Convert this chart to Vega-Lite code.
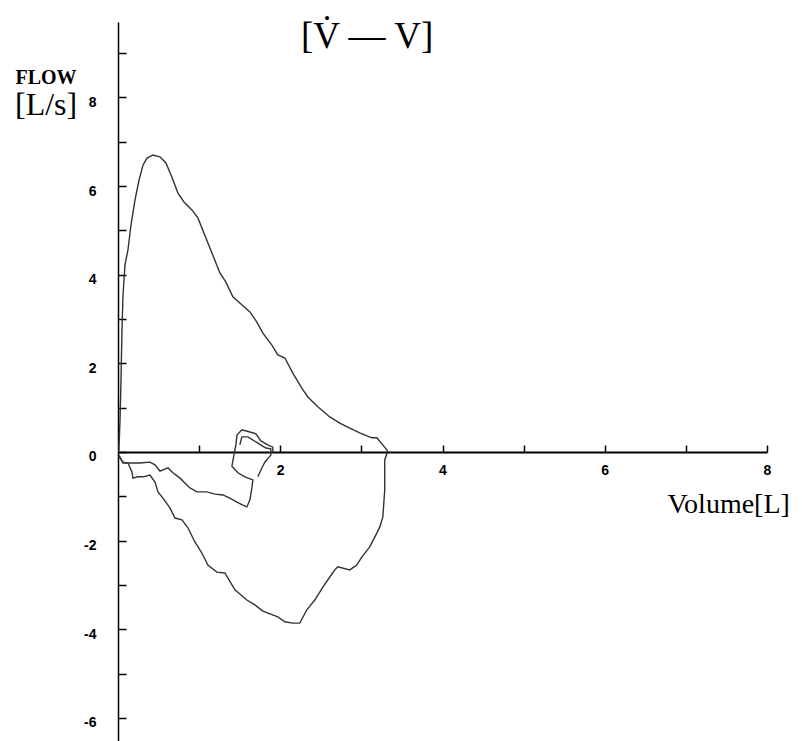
{
  "$schema": "https://vega.github.io/schema/vega-lite/v6.json",
  "width": 649,
  "height": 719,
  "autosize": {"type": "none"},
  "padding": {"left": 118, "top": 22, "right": 35, "bottom": 0},
  "background": "white",
  "config": {"view": {"stroke": null}, "axis": {"grid": false}},
  "title": {"text": "[V\u0307 \u2014 V]", "anchor": "start", "frame": "group", "dx": 183, "offset": -34, "baseline": "top", "font": "Liberation Serif", "fontSize": 37, "fontWeight": "normal", "color": "black"},
  "datasets": {
    "loop": [
      {"trace": "forced", "seq": 1, "volume": 0.01, "flow": 0},
      {"trace": "forced", "seq": 2, "volume": 0.025, "flow": 0.72},
      {"trace": "forced", "seq": 3, "volume": 0.037, "flow": 1.62},
      {"trace": "forced", "seq": 4, "volume": 0.049, "flow": 2.75},
      {"trace": "forced", "seq": 5, "volume": 0.062, "flow": 3.54},
      {"trace": "forced", "seq": 6, "volume": 0.086, "flow": 4.22},
      {"trace": "forced", "seq": 7, "volume": 0.123, "flow": 4.56},
      {"trace": "forced", "seq": 8, "volume": 0.16, "flow": 5.12},
      {"trace": "forced", "seq": 9, "volume": 0.209, "flow": 5.68},
      {"trace": "forced", "seq": 10, "volume": 0.259, "flow": 6.13},
      {"trace": "forced", "seq": 11, "volume": 0.308, "flow": 6.47},
      {"trace": "forced", "seq": 12, "volume": 0.357, "flow": 6.63},
      {"trace": "forced", "seq": 13, "volume": 0.431, "flow": 6.7},
      {"trace": "forced", "seq": 14, "volume": 0.517, "flow": 6.66},
      {"trace": "forced", "seq": 15, "volume": 0.591, "flow": 6.52},
      {"trace": "forced", "seq": 16, "volume": 0.665, "flow": 6.2},
      {"trace": "forced", "seq": 17, "volume": 0.739, "flow": 5.84},
      {"trace": "forced", "seq": 18, "volume": 0.813, "flow": 5.64},
      {"trace": "forced", "seq": 19, "volume": 0.911, "flow": 5.46},
      {"trace": "forced", "seq": 20, "volume": 0.985, "flow": 5.28},
      {"trace": "forced", "seq": 21, "volume": 1.059, "flow": 4.94},
      {"trace": "forced", "seq": 22, "volume": 1.158, "flow": 4.49},
      {"trace": "forced", "seq": 23, "volume": 1.256, "flow": 4.04},
      {"trace": "forced", "seq": 24, "volume": 1.33, "flow": 3.83},
      {"trace": "forced", "seq": 25, "volume": 1.416, "flow": 3.5},
      {"trace": "forced", "seq": 26, "volume": 1.502, "flow": 3.36},
      {"trace": "forced", "seq": 27, "volume": 1.626, "flow": 3.16},
      {"trace": "forced", "seq": 28, "volume": 1.712, "flow": 2.93},
      {"trace": "forced", "seq": 29, "volume": 1.786, "flow": 2.68},
      {"trace": "forced", "seq": 30, "volume": 1.897, "flow": 2.41},
      {"trace": "forced", "seq": 31, "volume": 1.97, "flow": 2.19},
      {"trace": "forced", "seq": 32, "volume": 2.057, "flow": 2.12},
      {"trace": "forced", "seq": 33, "volume": 2.155, "flow": 1.78},
      {"trace": "forced", "seq": 34, "volume": 2.266, "flow": 1.44},
      {"trace": "forced", "seq": 35, "volume": 2.34, "flow": 1.24},
      {"trace": "forced", "seq": 36, "volume": 2.463, "flow": 1.02},
      {"trace": "forced", "seq": 37, "volume": 2.611, "flow": 0.79},
      {"trace": "forced", "seq": 38, "volume": 2.734, "flow": 0.65},
      {"trace": "forced", "seq": 39, "volume": 2.857, "flow": 0.54},
      {"trace": "forced", "seq": 40, "volume": 2.98, "flow": 0.43},
      {"trace": "forced", "seq": 41, "volume": 3.128, "flow": 0.32},
      {"trace": "forced", "seq": 42, "volume": 3.19, "flow": 0.32},
      {"trace": "forced", "seq": 43, "volume": 3.264, "flow": 0.16},
      {"trace": "forced", "seq": 44, "volume": 3.325, "flow": 0.02},
      {"trace": "forced", "seq": 45, "volume": 3.288, "flow": -0.18},
      {"trace": "forced", "seq": 46, "volume": 3.288, "flow": -0.86},
      {"trace": "forced", "seq": 47, "volume": 3.264, "flow": -1.47},
      {"trace": "forced", "seq": 48, "volume": 3.227, "flow": -1.69},
      {"trace": "forced", "seq": 49, "volume": 3.19, "flow": -1.83},
      {"trace": "forced", "seq": 50, "volume": 3.103, "flow": -2.14},
      {"trace": "forced", "seq": 51, "volume": 3.005, "flow": -2.37},
      {"trace": "forced", "seq": 52, "volume": 2.943, "flow": -2.55},
      {"trace": "forced", "seq": 53, "volume": 2.857, "flow": -2.66},
      {"trace": "forced", "seq": 54, "volume": 2.709, "flow": -2.59},
      {"trace": "forced", "seq": 55, "volume": 2.672, "flow": -2.66},
      {"trace": "forced", "seq": 56, "volume": 2.611, "flow": -2.82},
      {"trace": "forced", "seq": 57, "volume": 2.525, "flow": -3.05},
      {"trace": "forced", "seq": 58, "volume": 2.426, "flow": -3.34},
      {"trace": "forced", "seq": 59, "volume": 2.328, "flow": -3.56},
      {"trace": "forced", "seq": 60, "volume": 2.241, "flow": -3.86},
      {"trace": "forced", "seq": 61, "volume": 2.155, "flow": -3.86},
      {"trace": "forced", "seq": 62, "volume": 2.057, "flow": -3.83},
      {"trace": "forced", "seq": 63, "volume": 1.97, "flow": -3.72},
      {"trace": "forced", "seq": 64, "volume": 1.786, "flow": -3.59},
      {"trace": "forced", "seq": 65, "volume": 1.687, "flow": -3.45},
      {"trace": "forced", "seq": 66, "volume": 1.589, "flow": -3.34},
      {"trace": "forced", "seq": 67, "volume": 1.441, "flow": -3.11},
      {"trace": "forced", "seq": 68, "volume": 1.318, "flow": -2.73},
      {"trace": "forced", "seq": 69, "volume": 1.219, "flow": -2.71},
      {"trace": "forced", "seq": 70, "volume": 1.108, "flow": -2.55},
      {"trace": "forced", "seq": 71, "volume": 1.034, "flow": -2.28},
      {"trace": "forced", "seq": 72, "volume": 0.948, "flow": -2.03},
      {"trace": "forced", "seq": 73, "volume": 0.862, "flow": -1.71},
      {"trace": "forced", "seq": 74, "volume": 0.788, "flow": -1.53},
      {"trace": "forced", "seq": 75, "volume": 0.702, "flow": -1.49},
      {"trace": "forced", "seq": 76, "volume": 0.64, "flow": -1.26},
      {"trace": "forced", "seq": 77, "volume": 0.554, "flow": -1.04},
      {"trace": "forced", "seq": 78, "volume": 0.493, "flow": -0.9},
      {"trace": "forced", "seq": 79, "volume": 0.456, "flow": -0.68},
      {"trace": "forced", "seq": 80, "volume": 0.394, "flow": -0.52},
      {"trace": "forced", "seq": 81, "volume": 0.308, "flow": -0.56},
      {"trace": "forced", "seq": 82, "volume": 0.246, "flow": -0.56},
      {"trace": "forced", "seq": 83, "volume": 0.185, "flow": -0.59},
      {"trace": "forced", "seq": 84, "volume": 0.172, "flow": -0.45},
      {"trace": "forced", "seq": 85, "volume": 0.123, "flow": -0.25},
      {"trace": "forced", "seq": 86, "volume": 0.062, "flow": -0.23},
      {"trace": "forced", "seq": 87, "volume": 0.025, "flow": -0.14},
      {"trace": "forced", "seq": 88, "volume": 0.0, "flow": -0.07},
      {"trace": "tidal", "seq": 1, "volume": 0.012, "flow": -0.07},
      {"trace": "tidal", "seq": 2, "volume": 0.062, "flow": -0.25},
      {"trace": "tidal", "seq": 3, "volume": 0.148, "flow": -0.25},
      {"trace": "tidal", "seq": 4, "volume": 0.271, "flow": -0.25},
      {"trace": "tidal", "seq": 5, "volume": 0.394, "flow": -0.23},
      {"trace": "tidal", "seq": 6, "volume": 0.456, "flow": -0.29},
      {"trace": "tidal", "seq": 7, "volume": 0.517, "flow": -0.43},
      {"trace": "tidal", "seq": 8, "volume": 0.616, "flow": -0.36},
      {"trace": "tidal", "seq": 9, "volume": 0.677, "flow": -0.47},
      {"trace": "tidal", "seq": 10, "volume": 0.764, "flow": -0.59},
      {"trace": "tidal", "seq": 11, "volume": 0.887, "flow": -0.81},
      {"trace": "tidal", "seq": 12, "volume": 0.973, "flow": -0.9},
      {"trace": "tidal", "seq": 13, "volume": 1.096, "flow": -0.9},
      {"trace": "tidal", "seq": 14, "volume": 1.195, "flow": -0.95},
      {"trace": "tidal", "seq": 15, "volume": 1.293, "flow": -0.97},
      {"trace": "tidal", "seq": 16, "volume": 1.379, "flow": -1.04},
      {"trace": "tidal", "seq": 17, "volume": 1.466, "flow": -1.13},
      {"trace": "tidal", "seq": 18, "volume": 1.539, "flow": -1.2},
      {"trace": "tidal", "seq": 19, "volume": 1.589, "flow": -1.24},
      {"trace": "tidal", "seq": 20, "volume": 1.626, "flow": -1.08},
      {"trace": "tidal", "seq": 21, "volume": 1.65, "flow": -0.81},
      {"trace": "tidal", "seq": 22, "volume": 1.663, "flow": -0.63},
      {"trace": "tidal", "seq": 23, "volume": 1.564, "flow": -0.56},
      {"trace": "tidal", "seq": 24, "volume": 1.478, "flow": -0.47},
      {"trace": "tidal", "seq": 25, "volume": 1.404, "flow": -0.32},
      {"trace": "tidal", "seq": 26, "volume": 1.429, "flow": -0.07},
      {"trace": "tidal", "seq": 27, "volume": 1.453, "flow": 0.16},
      {"trace": "tidal", "seq": 28, "volume": 1.466, "flow": 0.38},
      {"trace": "tidal", "seq": 29, "volume": 1.527, "flow": 0.5},
      {"trace": "tidal", "seq": 30, "volume": 1.626, "flow": 0.45},
      {"trace": "tidal", "seq": 31, "volume": 1.7, "flow": 0.41},
      {"trace": "tidal", "seq": 32, "volume": 1.761, "flow": 0.25},
      {"trace": "tidal", "seq": 33, "volume": 1.847, "flow": 0.16},
      {"trace": "tidal", "seq": 34, "volume": 1.909, "flow": 0.11},
      {"trace": "tidal", "seq": 35, "volume": 1.909, "flow": -0.02},
      {"trace": "tidal2", "seq": 1, "volume": 1.502, "flow": 0.16},
      {"trace": "tidal2", "seq": 2, "volume": 1.527, "flow": 0.34},
      {"trace": "tidal2", "seq": 3, "volume": 1.601, "flow": 0.34},
      {"trace": "tidal2", "seq": 4, "volume": 1.724, "flow": 0.2},
      {"trace": "tidal2", "seq": 5, "volume": 1.823, "flow": 0.09},
      {"trace": "tidal2", "seq": 6, "volume": 1.884, "flow": 0.07},
      {"trace": "tidal2", "seq": 7, "volume": 1.884, "flow": -0.07},
      {"trace": "tidal2", "seq": 8, "volume": 1.81, "flow": -0.23},
      {"trace": "tidal2", "seq": 9, "volume": 1.773, "flow": -0.36},
      {"trace": "tidal2", "seq": 10, "volume": 1.724, "flow": -0.56}
    ]
  },
  "layer": [
    {
      "data": {"name": "loop"},
      "mark": {"type": "line", "color": "#333333", "strokeWidth": 1.4},
      "encoding": {
        "x": {
          "field": "volume", "type": "quantitative",
          "scale": {"domain": [0, 8], "nice": false, "zero": false},
          "axis": {
            "orient": "bottom", "offset": -289,
            "values": [1, 2, 3, 4, 5, 6, 7, 8],
            "labelExpr": "datum.value % 2 === 0 ? '' + datum.value : ''",
            "tickSize": -7, "tickWidth": 1.5, "tickColor": "black",
            "domainColor": "black", "domainWidth": 2,
            "labelFont": "Liberation Sans", "labelFontWeight": "bold", "labelFontSize": 14, "labelColor": "black",
            "labelPadding": 18, "labelFlush": false, "labelOverlap": false,
            "title": "Volume[L]", "titleAlign": "left", "titleBaseline": "top", "titleAnchor": null,
            "titleX": 549, "titleY": 38,
            "titleFont": "Liberation Serif", "titleFontSize": 28, "titleFontWeight": "normal", "titleColor": "black"
          }
        },
        "y": {
          "field": "flow", "type": "quantitative",
          "scale": {"domain": [-6.52, 9.7], "nice": false, "zero": false},
          "axis": {
            "orient": "left",
            "values": [-6, -5, -4, -3, -2, -1, 0, 1, 2, 3, 4, 5, 6, 7, 8, 9],
            "labelExpr": "datum.value % 2 === 0 ? '' + datum.value : ''",
            "tickSize": -8, "tickWidth": 1.5, "tickColor": "black",
            "domainColor": "black", "domainWidth": 1.5,
            "labelFont": "Liberation Sans", "labelFontWeight": "bold", "labelFontSize": 14, "labelColor": "black",
            "labelPadding": 30, "labelOffset": 5, "labelFlush": false, "labelOverlap": false,
            "title": "FLOW", "titleAngle": 0, "titleAlign": "left", "titleBaseline": "alphabetic",
            "titleX": -103, "titleY": 61,
            "titleFont": "Liberation Serif", "titleFontSize": 20, "titleFontWeight": "bold", "titleColor": "black"
          }
        },
        "order": {"field": "seq", "type": "quantitative"},
        "detail": {"field": "trace", "type": "nominal"}
      }
    },
    {
      "data": {"values": [{"label": "[L/s]"}]},
      "mark": {"type": "text", "align": "left", "baseline": "alphabetic", "font": "Liberation Serif", "fontSize": 32, "color": "black"},
      "encoding": {
        "x": {"datum": -1.27, "type": "quantitative"},
        "y": {"datum": 7.6, "type": "quantitative"},
        "text": {"field": "label", "type": "nominal"}
      }
    }
  ]
}
